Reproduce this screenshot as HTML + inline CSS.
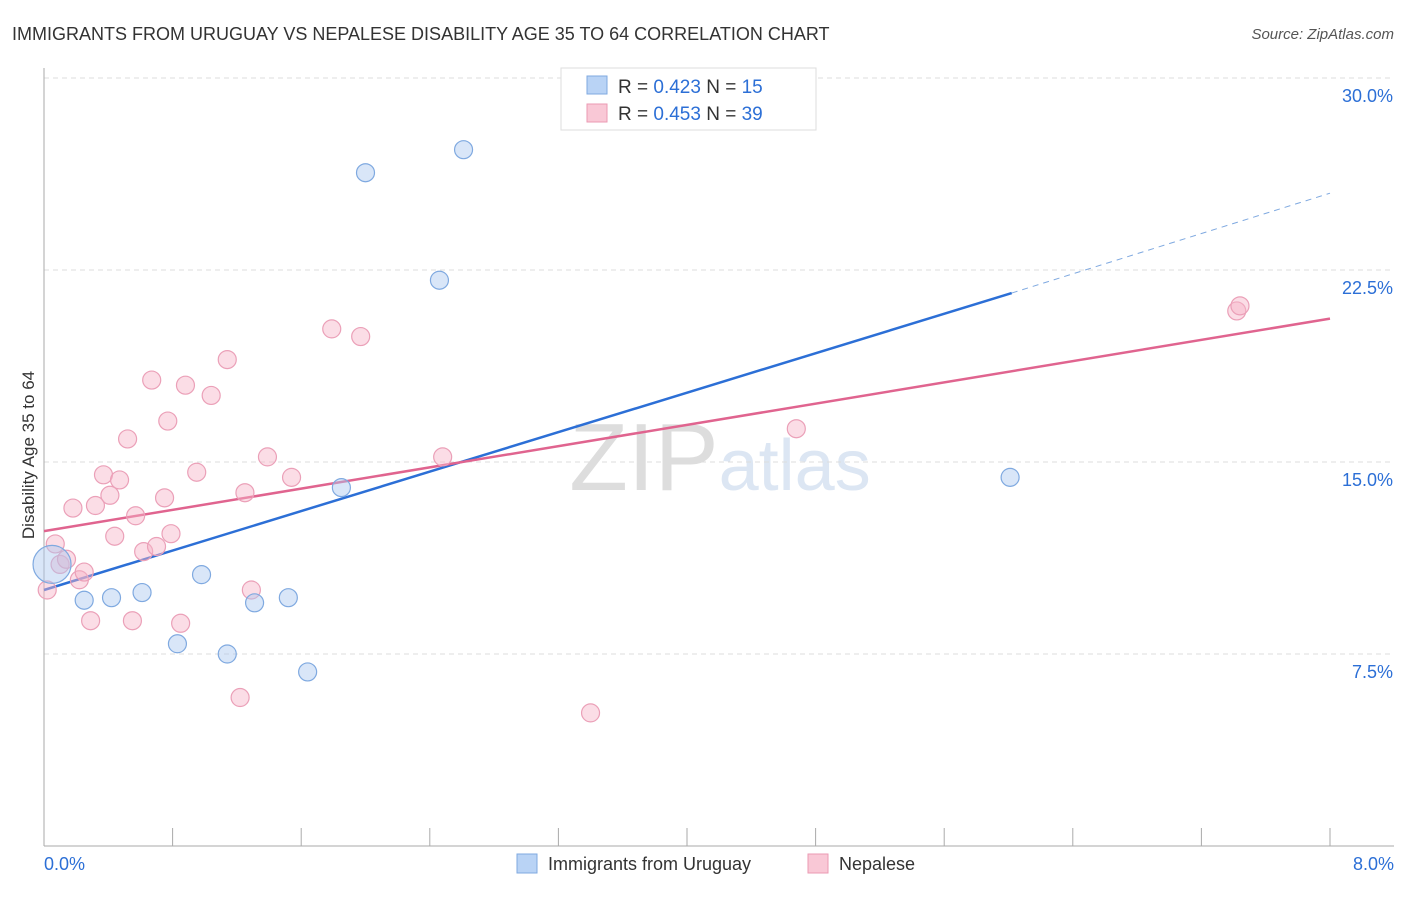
<!DOCTYPE html>
<html><head><meta charset="utf-8"><style>
body{margin:0;background:#fff;font-family:"Liberation Sans",sans-serif;}
svg text{font-family:"Liberation Sans",sans-serif;}
</style></head><body>
<svg id="c" width="1406" height="892">
<text x="12" y="40" font-size="18" fill="#333">IMMIGRANTS FROM URUGUAY VS NEPALESE DISABILITY AGE 35 TO 64 CORRELATION CHART</text>
<text x="1394" y="39" font-size="15" fill="#555" font-style="italic" text-anchor="end">Source: ZipAtlas.com</text>
<text x="720" y="490" font-size="96" fill="#e6e6e6" text-anchor="middle" font-family="Liberation Serif"><tspan fill="#dddddd">ZIP</tspan><tspan fill="#dce6f3" font-family="Liberation Sans" font-size="72">atlas</tspan></text>
<g id="grid"></g><g id="axes"></g><g id="lines"></g><g id="pts"></g>
<text transform="translate(34,455) rotate(-90)" font-size="17" fill="#333" text-anchor="middle">Disability Age 35 to 64</text>
<g>
<rect x="561" y="68" width="255" height="62" fill="#fff" stroke="#ddd"/>
<rect x="587" y="76" width="20" height="18" fill="#b9d3f5" stroke="#7fa9e0"/>
<rect x="587" y="104" width="20" height="18" fill="#f9c8d6" stroke="#eb9ab3"/>
<text x="618" y="93" font-size="19" fill="#333">R = <tspan fill="#2c6fd6">0.423</tspan>   N = <tspan fill="#2c6fd6">15</tspan></text>
<text x="618" y="120" font-size="19" fill="#333">R = <tspan fill="#2c6fd6">0.453</tspan>   N = <tspan fill="#2c6fd6">39</tspan></text>
</g>
<g>
<rect x="517" y="854" width="20" height="19" fill="#b9d3f5" stroke="#7fa9e0"/>
<text x="548" y="870" font-size="18" fill="#333">Immigrants from Uruguay</text>
<rect x="808" y="854" width="20" height="19" fill="#f9c8d6" stroke="#eb9ab3"/>
<text x="839" y="870" font-size="18" fill="#333">Nepalese</text>
</g>
</svg>
<script>
const yTicks=[7.5,15,22.5,30];
const yTickLabels=["7.5%","15.0%","22.5%","30.0%"];
const xTickLabels=["0.0%","8.0%"];
const blueX=[0.05,0.25,0.42,0.61,0.83,0.98,1.14,1.31,1.52,1.64,1.85,2.00,2.46,2.61,6.01];
const blueY=[11.0,9.6,9.7,9.9,7.9,10.6,7.5,9.5,9.7,6.8,14.0,26.3,22.1,27.2,14.4];
const blueS=[19,9,9,9,9,9,9,9,9,9,9,9,9,9,9];
const pinkX=[0.02,0.07,0.10,0.14,0.18,0.22,0.25,0.29,0.32,0.37,0.41,0.44,0.47,0.52,0.55,0.57,0.62,0.67,0.70,0.75,0.77,0.79,0.85,0.88,0.95,1.04,1.14,1.22,1.25,1.29,1.39,1.54,1.79,1.97,2.48,3.40,4.68,7.42,7.44];
const pinkY=[10.0,11.8,11.0,11.2,13.2,10.4,10.7,8.8,13.3,14.5,13.7,12.1,14.3,15.9,8.8,12.9,11.5,18.2,11.7,13.6,16.6,12.2,8.7,18.0,14.6,17.6,19.0,5.8,13.8,10.0,15.2,14.4,20.2,19.9,15.2,5.2,16.3,20.9,21.1];
const blueLine=[[0,10.0],[6.02,21.6]];
const blueDash=[[6.02,21.6],[8,25.5]];
const pinkLine=[[0,12.3],[8,20.6]];
const NS="http://www.w3.org/2000/svg";
const X=v=>44+v/8*1286, Y=v=>846-v/7.5*192;
function mk(t,a,p){const e=document.createElementNS(NS,t);for(const k in a)e.setAttribute(k,a[k]);p.appendChild(e);return e;}
const g=document.getElementById('grid'),ax=document.getElementById('axes'),ln=document.getElementById('lines'),pt=document.getElementById('pts');
yTicks.forEach((t,i)=>{const l=mk('line',{x1:44,x2:1394,y1:Y(t),y2:Y(t),stroke:'#ddd','stroke-dasharray':'5,4'},g);

const tx=mk('text',{x:1393,y:Y(t)+24,'font-size':18,fill:'#2c6fd6','text-anchor':'end'},ax);tx.textContent=yTickLabels[i];
});
let a=mk('line',{x1:44,x2:44,y1:68,y2:846,stroke:'#aaa'},ax);
a=mk('line',{x1:44,x2:1394,y1:846,y2:846,stroke:'#aaa'},ax);
for(let i=1;i<=10;i++){const t=mk('line',{x1:X(i*0.8),x2:X(i*0.8),y1:828,y2:846,stroke:'#aaa'},ax);}
[[0,'start',44],[8,'end',1394]].forEach((d,i)=>{const t=mk('text',{x:d[2],y:870,'font-size':18,fill:'#2c6fd6','text-anchor':d[1]},ax);t.textContent=xTickLabels[i];});
function line(p,col,dash,name){const l=mk('line',{x1:X(p[0][0]),y1:Y(p[0][1]),x2:X(p[1][0]),y2:Y(p[1][1]),stroke:col,'stroke-width':dash?1:2.5},ln);if(dash)l.setAttribute('stroke-dasharray','6,5');}
pinkX.forEach((x,i)=>{const c=mk('circle',{cx:X(x),cy:Y(pinkY[i]),r:9,fill:'rgba(246,180,200,0.45)',stroke:'#eba0b8','stroke-width':1.2},pt);});
blueX.forEach((x,i)=>{const c=mk('circle',{cx:X(x),cy:Y(blueY[i]),r:blueS[i],fill:'rgba(170,200,240,0.45)',stroke:'#7fa9e0','stroke-width':1.2},pt);});
line(blueLine,'#2c6fd6',false,'uruguay-trendline');
line(blueDash,'#7fa9e0',true,'uruguay-trendline-extension');
line(pinkLine,'#e0648f',false,'nepalese-trendline');
</script>
</body></html>
